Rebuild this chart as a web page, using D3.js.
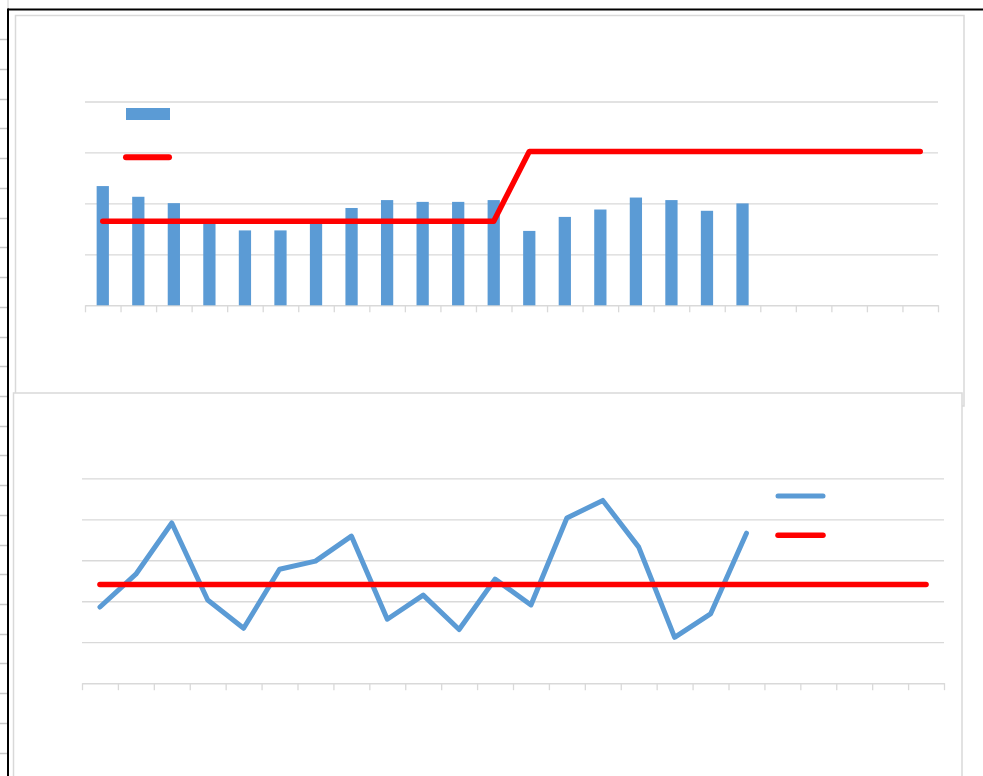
<!DOCTYPE html>
<html>
<head>
<meta charset="utf-8">
<script src="https://cdn.jsdelivr.net/npm/d3@7/dist/d3.min.js"></script>
<style>
  html, body { margin: 0; padding: 0; background: #fff; }
  svg { display: block; }
</style>
</head>
<body>
<svg id="chart" width="983" height="776"></svg>
<script>
// ---------- DATA ----------
const categories = ["1","2","3","4","5","6","7","8","9","10","11","12",
                    "13","14","15","16","17","18","19","20","21","22","23","24"];

// Top chart: bar series (19 values) and red target line (24 values)
const barValues = [46.8, 42.6, 40.1, 32.6, 29.4, 29.4, 32.6, 38.2, 41.3, 40.6,
                   40.6, 41.3, 29.2, 34.7, 37.6, 42.3, 41.3, 37.1, 40.0];
const targetTop = [33.0, 33.0, 33.0, 33.0, 33.0, 33.0, 33.0, 33.0, 33.0, 33.0, 33.0, 33.0,
                   60.4, 60.4, 60.4, 60.4, 60.4, 60.4, 60.4, 60.4, 60.4, 60.4, 60.4, 60.4];
const yTicksTop = [0, 20, 40, 60, 80];

// Bottom chart: blue line (19 values) and red average line (24 values)
const lineValues = [18.6, 26.6, 39.1, 20.3, 13.4, 27.8, 29.8, 35.9, 15.6, 21.5,
                    13.1, 25.4, 19.1, 40.3, 44.6, 33.2, 11.2, 16.9, 36.6];
const avgBottom = [24.1, 24.1, 24.1, 24.1, 24.1, 24.1, 24.1, 24.1, 24.1, 24.1, 24.1, 24.1,
                   24.1, 24.1, 24.1, 24.1, 24.1, 24.1, 24.1, 24.1, 24.1, 24.1, 24.1, 24.1];
const yTicksBottom = [0, 10, 20, 30, 40, 50];

// ---------- STYLE ----------
const BLUE = "#5B9BD5";
const RED = "#FF0000";
const GRID = "#d9d9d9";

const svg = d3.select("#chart");

// Spreadsheet background: row separators in left strip
const strip = svg.append("g");
for (let yy = 39.3; yy < 776; yy += 29.72) {
  strip.append("line").attr("x1", 0).attr("x2", 7).attr("y1", Math.round(yy) + 0.5).attr("y2", Math.round(yy) + 0.5)
    .attr("stroke", "#c8c8c8").attr("stroke-width", 1.5);
}
strip.append("line").attr("x1", 8).attr("x2", 8).attr("y1", 0).attr("y2", 9).attr("stroke", "#d0d0d0");

// Black frame
svg.append("line").attr("x1", 8).attr("x2", 983).attr("y1", 9.5).attr("y2", 9.5)
  .attr("stroke", "#000").attr("stroke-width", 2);
svg.append("line").attr("x1", 8).attr("x2", 8).attr("y1", 8.5).attr("y2", 776)
  .attr("stroke", "#000").attr("stroke-width", 2);

function xAxisTicks(g, xl, baseY) {
  const ax = d3.axisBottom(xl).ticks(categories.length).tickSize(7).tickSizeOuter(0).tickFormat("");
  const a = g.append("g").attr("transform", `translate(0,${baseY})`).call(ax);
  a.select(".domain").attr("stroke", GRID).attr("stroke-width", 1.5);
  a.selectAll(".tick line").attr("stroke", GRID).attr("stroke-width", 1.3);
}

function gridLines(g, y, ticks, x0, x1) {
  const ax = d3.axisLeft(y).tickValues(ticks.slice(1)).tickSize(-(x1 - x0)).tickFormat("");
  const a = g.append("g").attr("transform", `translate(${x0},0)`).call(ax);
  a.select(".domain").remove();
  a.selectAll(".tick line").attr("stroke", GRID).attr("stroke-width", 1.3);
}

// ================= TOP CHART =================
const gTop = svg.append("g");
gTop.append("rect").attr("x", 15.5).attr("y", 15.5).attr("width", 948.5).attr("height", 390.5)
  .attr("fill", "#fff").attr("stroke", GRID).attr("stroke-width", 1.5);

const T = { left: 85, right: 938, top: 101.5, base: 305.3 };
const xT = d3.scaleBand().domain(categories).range([T.left, T.right]).paddingInner(0).paddingOuter(0);
const xTl = d3.scaleLinear().domain([0, categories.length]).range([T.left, T.right]);
const yT = d3.scaleLinear().domain([yTicksTop[0], yTicksTop[yTicksTop.length - 1]]).range([T.base, T.top]);

gridLines(gTop, yT, yTicksTop, T.left, T.right);
xAxisTicks(gTop, xTl, T.base);

const bwT = xT.bandwidth();
const barW = bwT / 2.9;
gTop.append("g").selectAll("rect").data(barValues).join("rect")
  .attr("x", (d, i) => xT(categories[i]) + (bwT - barW) / 2)
  .attr("y", d => yT(d))
  .attr("width", barW)
  .attr("height", d => yT(0) - yT(d))
  .attr("fill", BLUE);

const lineT = d3.line().x((d, i) => xT(categories[i]) + bwT / 2).y(d => yT(d));
gTop.append("path").datum(targetTop).attr("d", lineT)
  .attr("fill", "none").attr("stroke", RED).attr("stroke-width", 5.5)
  .attr("stroke-linejoin", "round").attr("stroke-linecap", "round");

// legend (top)
gTop.append("rect").attr("x", 126).attr("y", 108).attr("width", 44).attr("height", 12).attr("fill", BLUE);
gTop.append("line").attr("x1", 126).attr("x2", 169).attr("y1", 157.3).attr("y2", 157.3)
  .attr("stroke", RED).attr("stroke-width", 6).attr("stroke-linecap", "round");

// ================= BOTTOM CHART =================
const gBot = svg.append("g");
gBot.append("rect").attr("x", 13.5).attr("y", 393).attr("width", 948.5).attr("height", 400)
  .attr("fill", "#fff").attr("stroke", GRID).attr("stroke-width", 1.5);

const B = { left: 82, right: 944, top: 478.3, base: 683.2 };
const xB = d3.scaleBand().domain(categories).range([B.left, B.right]).paddingInner(0).paddingOuter(0);
const xBl = d3.scaleLinear().domain([0, categories.length]).range([B.left, B.right]);
const yB = d3.scaleLinear().domain([yTicksBottom[0], yTicksBottom[yTicksBottom.length - 1]]).range([B.base, B.top]);

gridLines(gBot, yB, yTicksBottom, B.left, B.right);
xAxisTicks(gBot, xBl, B.base);

const bwB = xB.bandwidth();
const lineB = d3.line().x((d, i) => xB(categories[i]) + bwB / 2).y(d => yB(d));
gBot.append("path").datum(lineValues).attr("d", lineB)
  .attr("fill", "none").attr("stroke", BLUE).attr("stroke-width", 5)
  .attr("stroke-linejoin", "round").attr("stroke-linecap", "round");
gBot.append("path").datum(avgBottom).attr("d", lineB)
  .attr("fill", "none").attr("stroke", RED).attr("stroke-width", 5.5)
  .attr("stroke-linejoin", "round").attr("stroke-linecap", "round");

// legend (bottom)
gBot.append("line").attr("x1", 778).attr("x2", 823).attr("y1", 496).attr("y2", 496)
  .attr("stroke", BLUE).attr("stroke-width", 5).attr("stroke-linecap", "round");
gBot.append("line").attr("x1", 778).attr("x2", 823).attr("y1", 535.3).attr("y2", 535.3)
  .attr("stroke", RED).attr("stroke-width", 5.5).attr("stroke-linecap", "round");
</script>
</body>
</html>
